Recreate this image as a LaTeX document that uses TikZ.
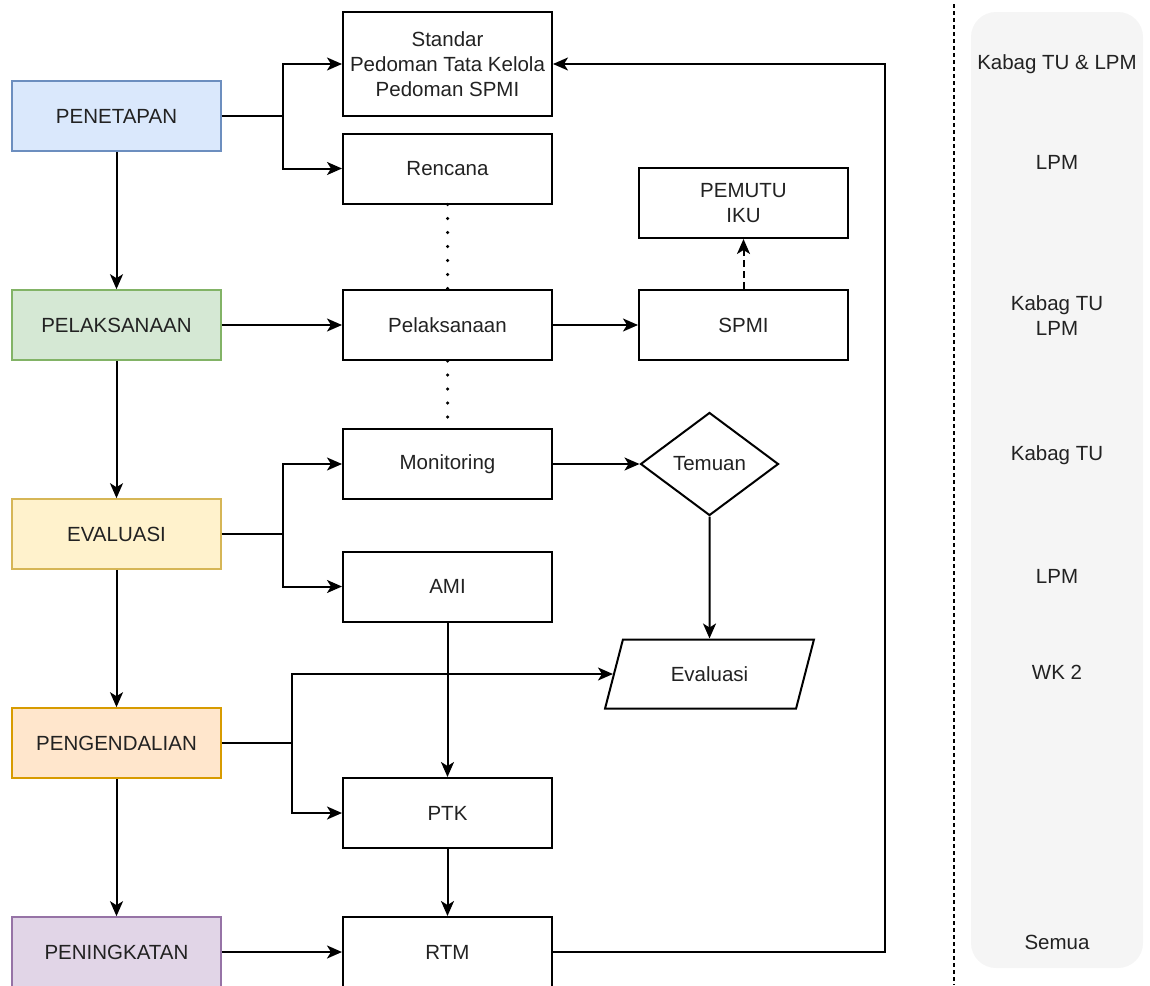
\documentclass[tikz,border=0pt]{standalone}
\usepackage{fontspec}
\setmainfont{Liberation Sans}
\usetikzlibrary{shapes.geometric,arrows.meta}
\definecolor{penfill}{HTML}{DAE8FC}\definecolor{pendraw}{HTML}{6C8EBF}
\definecolor{pelfill}{HTML}{D5E8D4}\definecolor{peldraw}{HTML}{82B366}
\definecolor{evlfill}{HTML}{FFF2CC}\definecolor{evldraw}{HTML}{D6B656}
\definecolor{pgdfill}{HTML}{FFE6CC}\definecolor{pgddraw}{HTML}{D79B00}
\definecolor{pngfill}{HTML}{E1D5E7}\definecolor{pngdraw}{HTML}{9673A6}
\definecolor{lanegray}{HTML}{F5F5F5}
\definecolor{ink}{HTML}{222222}

\begin{document}
\begin{tikzpicture}[x=1pt,y=-1pt,font=\fontsize{20.5}{25}\selectfont,text=ink,
    phase/.style={draw,line width=1.6pt,minimum width=209pt,minimum height=70pt,inner sep=0pt},
    box/.style={draw,line width=2pt,minimum width=209pt,minimum height=70pt,align=center,inner sep=0pt},
    arr/.style={line width=2pt,-{Stealth[length=15pt,width=13pt,inset=4pt]}},
    dots/.style={line width=3.5pt,line cap=round,dash pattern=on 0pt off 14pt}]
    \useasboundingbox (0,0) rectangle (1150,985);
    \fill [lanegray,rounded corners=25pt] (971,12) rectangle (1143,968);
    \draw [line width=1.3pt,dash pattern=on 4pt off 3pt] (954,4) -- (954,985);

    \node [phase,fill=penfill,draw=pendraw] (pen) at (116.5,116) {PENETAPAN};
    \node [phase,fill=pelfill,draw=peldraw] (pel) at (116.5,325) {PELAKSANAAN};
    \node [phase,fill=evlfill,draw=evldraw] (evl) at (116.5,534) {EVALUASI};
    \node [phase,fill=pgdfill,draw=pgddraw] (pgd) at (116.5,743) {PENGENDALIAN};
    \node [phase,fill=pngfill,draw=pngdraw] (png) at (116.5,952) {PENINGKATAN};

    \node [box,minimum height=104pt] (std) at (447.5,64) {Standar\\Pedoman Tata Kelola\\Pedoman SPMI};
    \node [box] (ren) at (447.5,168.5) {Rencana};
    \node [box] (pls) at (447.5,325) {Pelaksanaan};
    \node [box] (mon) at (447.5,464) {Monitoring};
    \node [box] (ami) at (447.5,586.5) {AMI};
    \node [box] (ptk) at (447.5,813) {PTK};
    \node [box] (rtm) at (447.5,952) {RTM};
    \node [box] (pmt) at (743.5,203) {PEMUTU\\IKU};
    \node [box] (spm) at (743.5,325) {SPMI};
    \node [draw,line width=2pt,diamond,aspect=1.34,minimum width=138pt,minimum height=103pt,inner sep=0pt] (tem) at (709.5,464) {Temuan};
    \node [draw,line width=2pt,trapezium,trapezium left angle=62,trapezium right angle=118,
           trapezium stretches=true,minimum width=211pt,minimum height=69pt,inner sep=0pt] (eva) at (709.5,674) {Evaluasi};

    \node (lb1) at (1057,64) {Kabag TU \& LPM};
    \node (lb2) at (1057,162) {LPM};
    \node [align=center] (lb3) at (1057,316) {Kabag TU\\LPM};
    \node (lb4) at (1057,455) {Kabag TU};
    \node (lb5) at (1057,576) {LPM};
    \node (lb6) at (1057,672) {WK 2};
    \node (lb7) at (1057,942) {Semua};

    \draw [arr] (pen) -- (pel);
    \draw [arr] (pel) -- (evl);
    \draw [arr] (evl) -- (pgd);
    \draw [arr] (pgd) -- (png);
    \draw [arr] (pen.east) -- ++(61,0) |- (std.west);
    \draw [arr] (pen.east) -- ++(61,0) |- (ren.west);
    \draw [arr] (pel) -- (pls);
    \draw [arr] (pls) -- (spm);
    \draw [arr,dash pattern=on 7pt off 4pt] (spm) -- (pmt);
    \draw [arr] (evl.east) -- ++(61,0) |- (mon.west);
    \draw [arr] (evl.east) -- ++(61,0) |- (ami.west);
    \draw [arr] (mon) -- (tem);
    \draw [arr] (tem.south) -- (eva.north);
    \draw [arr] (pgd.east) -- ++(70,0) |- (eva.west);
    \draw [arr] (pgd.east) -- ++(70,0) |- (ptk.west);
    \draw [arr] (ami) -- (ptk);
    \draw [arr] (ptk) -- (rtm);
    \draw [arr] (png) -- (rtm);
    \draw [arr] (rtm.east) -- ++(332,0) |- (std.east);
    \draw [dots] (ren.south) -- (pls.north);
    \draw [dots] (pls.south) -- (mon.north);
\end{tikzpicture}
\end{document}
